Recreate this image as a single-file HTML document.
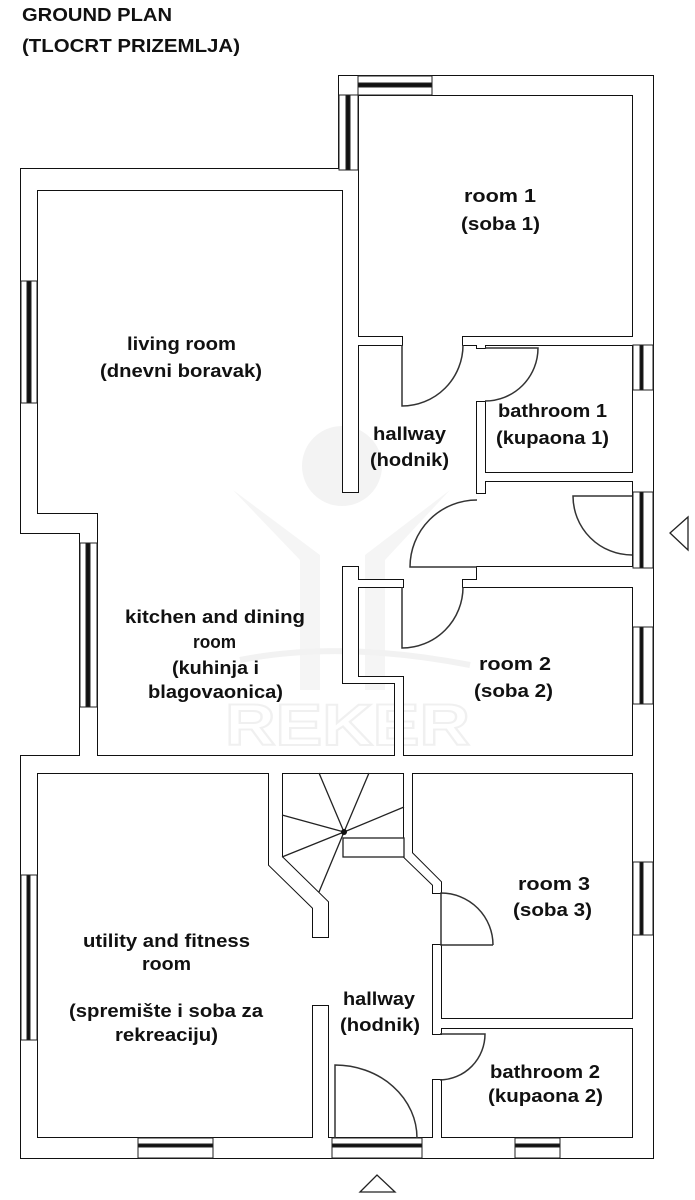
<!DOCTYPE html>
<html><head><meta charset="utf-8"><style>
html,body{margin:0;padding:0;background:#fff;}
svg{display:block;}
text{font-family:"Liberation Sans",Arial,sans-serif;font-weight:bold;fill:#111;}
</style></head><body>
<svg width="695" height="1200" viewBox="0 0 695 1200" xmlns="http://www.w3.org/2000/svg">
<rect width="695" height="1200" fill="#fff"/>
<!-- watermark -->
<g>
<circle cx="342" cy="466" r="40" fill="#f3f3f3"/>
<path d="M233,490 L320,555 L320,690 L300,690 L300,560 Z" fill="#f5f5f5"/>
<path d="M450,490 L365,555 L365,690 L385,690 L385,560 Z" fill="#f5f5f5"/>
<path d="M240,660 Q340,640 470,665" stroke="#f2f2f2" stroke-width="6" fill="none"/>
<text x="225" y="745" textLength="245" lengthAdjust="spacingAndGlyphs" style="font-size:58px;fill:none;stroke:#f0f0f0;stroke-width:2">REKER</text>
<text x="225" y="768" textLength="245" lengthAdjust="spacing" style="font-size:16px;fill:#f2f2f2">IMMOBILIEN</text>
</g>
<defs>
<g id="walls">
<rect x="339" y="76" width="314" height="19"/>
<rect x="339" y="76" width="19" height="104"/>
<rect x="343" y="169" width="15" height="323"/>
<rect x="21" y="169" width="337" height="21"/>
<rect x="21" y="169" width="16" height="364"/>
<rect x="21" y="514" width="76" height="19"/>
<rect x="80" y="514" width="17" height="242"/>
<rect x="21" y="756" width="612" height="17"/>
<rect x="21" y="756" width="16" height="402"/>
<rect x="21" y="1138" width="632" height="20"/>
<rect x="633" y="76" width="20" height="1082"/>
<rect x="358" y="337" width="44" height="8"/>
<rect x="463" y="337" width="170" height="8"/>
<rect x="477" y="337" width="8" height="11"/>
<rect x="477" y="402" width="8" height="91"/>
<rect x="477" y="473" width="156" height="8"/>
<polygon points="477,567 633,567 633,587 463,587 463,580 477,580"/>
<polygon points="343,567 358,567 358,580 403,580 403,587 358,587 358,677 403,677 403,756 395,756 395,683 343,683"/>
<polygon points="269,765 282,765 282,857 328,902 328,937 313,937 313,908 269,865"/>
<polygon points="404,765 412,765 412,853 441,882 441,893 433,893 433,885 404,857"/>
<rect x="433" y="945" width="8" height="89"/>
<rect x="433" y="1019" width="200" height="9"/>
<rect x="433" y="1080" width="8" height="65"/>
<rect x="313" y="1006" width="15" height="140"/>
</g>
</defs>
<use href="#walls" fill="none" stroke="#111" stroke-width="2"/>
<use href="#walls" fill="#fff" stroke="none"/>
<!-- windows -->
<g fill="#fff" stroke="#222" stroke-width="1">
<rect x="358" y="76" width="74" height="19"/><rect x="358" y="83" width="74" height="4" fill="#111"/>
<rect x="339" y="95" width="19" height="75"/><rect x="346" y="95" width="4" height="75" fill="#111"/>
<rect x="21" y="281" width="16" height="122"/><rect x="27" y="281" width="4" height="122" fill="#111"/>
<rect x="80" y="543" width="17" height="164"/><rect x="86" y="543" width="4" height="164" fill="#111"/>
<rect x="633" y="345" width="20" height="45"/><rect x="640" y="345" width="3" height="45" fill="#111"/>
<rect x="633" y="492" width="20" height="76"/><rect x="640" y="492" width="3" height="76" fill="#111"/>
<rect x="633" y="627" width="20" height="77"/><rect x="640" y="627" width="3" height="77" fill="#111"/>
<rect x="633" y="862" width="20" height="73"/><rect x="640" y="862" width="3" height="73" fill="#111"/>
<rect x="21" y="875" width="16" height="165"/><rect x="27" y="875" width="3" height="165" fill="#111"/>
<rect x="138" y="1138" width="75" height="20"/><rect x="138" y="1144" width="75" height="3" fill="#111"/>
<rect x="332" y="1138" width="90" height="20"/><rect x="332" y="1144" width="90" height="3" fill="#111"/>
<rect x="515" y="1138" width="45" height="20"/><rect x="515" y="1144" width="45" height="3" fill="#111"/>
</g>
<!-- doors -->
<g fill="none" stroke="#333" stroke-width="1.5">
<path d="M402,345 L402,406 A61,61 0 0 0 463,345"/>
<path d="M485,348 L538,348 A53,53 0 0 1 485,401"/>
<path d="M477,567 L410,567 A67,67 0 0 1 477,500"/>
<path d="M632,496 L573,496 A59,59 0 0 0 632,555"/>
<path d="M402,587 L402,648 A61,61 0 0 0 463,587"/>
<path d="M493,945 L441,945 L441,893 A52,52 0 0 1 493,945"/>
<path d="M440,1034 L485,1034 A46,46 0 0 1 440,1080"/>
<path d="M335,1138 L335,1065 A82,73 0 0 1 417,1138"/>
</g>
<!-- stairs -->
<g fill="none" stroke="#222" stroke-width="1.3">
<rect x="343" y="838" width="61" height="19" fill="#fff"/>
<line x1="344" y1="832" x2="319" y2="773"/>
<line x1="344" y1="832" x2="369" y2="773"/>
<line x1="344" y1="832" x2="404" y2="807"/>
<line x1="344" y1="832" x2="282" y2="815"/>
<line x1="344" y1="832" x2="282" y2="857"/>
<line x1="344" y1="832" x2="319" y2="892"/>
</g>
<circle cx="344" cy="832" r="3" fill="#111"/>
<!-- triangles -->
<polygon points="688,517 688,550 670,533" fill="none" stroke="#222" stroke-width="1.3"/>
<polygon points="360,1192 395,1192 377,1175" fill="none" stroke="#222" stroke-width="1.3"/>
<!-- text -->
<g style="font-size:18px">
<text x="22" y="21" textLength="150" lengthAdjust="spacingAndGlyphs">GROUND PLAN</text>
<text x="22" y="52" textLength="218" lengthAdjust="spacingAndGlyphs">(TLOCRT PRIZEMLJA)</text>
<text x="464" y="202" textLength="72" lengthAdjust="spacingAndGlyphs">room 1</text>
<text x="461" y="230" textLength="79" lengthAdjust="spacingAndGlyphs">(soba 1)</text>
<text x="127" y="350" textLength="109" lengthAdjust="spacingAndGlyphs">living room</text>
<text x="100" y="377" textLength="162" lengthAdjust="spacingAndGlyphs">(dnevni boravak)</text>
<text x="373" y="440" textLength="73" lengthAdjust="spacingAndGlyphs">hallway</text>
<text x="370" y="466" textLength="79" lengthAdjust="spacingAndGlyphs">(hodnik)</text>
<text x="498" y="417" textLength="109" lengthAdjust="spacingAndGlyphs">bathroom 1</text>
<text x="496" y="444" textLength="113" lengthAdjust="spacingAndGlyphs">(kupaona 1)</text>
<text x="125" y="623" textLength="180" lengthAdjust="spacingAndGlyphs">kitchen and dining</text>
<text x="193" y="648" textLength="43" lengthAdjust="spacingAndGlyphs">room</text>
<text x="172" y="674" textLength="87" lengthAdjust="spacingAndGlyphs">(kuhinja i</text>
<text x="148" y="698" textLength="135" lengthAdjust="spacingAndGlyphs">blagovaonica)</text>
<text x="479" y="670" textLength="72" lengthAdjust="spacingAndGlyphs">room 2</text>
<text x="474" y="697" textLength="79" lengthAdjust="spacingAndGlyphs">(soba 2)</text>
<text x="518" y="890" textLength="72" lengthAdjust="spacingAndGlyphs">room 3</text>
<text x="513" y="916" textLength="79" lengthAdjust="spacingAndGlyphs">(soba 3)</text>
<text x="83" y="947" textLength="167" lengthAdjust="spacingAndGlyphs">utility and fitness</text>
<text x="142" y="970" textLength="49" lengthAdjust="spacingAndGlyphs">room</text>
<text x="69" y="1017" textLength="194" lengthAdjust="spacingAndGlyphs">(spremište i soba za</text>
<text x="115" y="1041" textLength="103" lengthAdjust="spacingAndGlyphs">rekreaciju)</text>
<text x="343" y="1005" textLength="72" lengthAdjust="spacingAndGlyphs">hallway</text>
<text x="340" y="1031" textLength="80" lengthAdjust="spacingAndGlyphs">(hodnik)</text>
<text x="490" y="1078" textLength="110" lengthAdjust="spacingAndGlyphs">bathroom 2</text>
<text x="488" y="1102" textLength="115" lengthAdjust="spacingAndGlyphs">(kupaona 2)</text>
</g>
</svg>
</body></html>
